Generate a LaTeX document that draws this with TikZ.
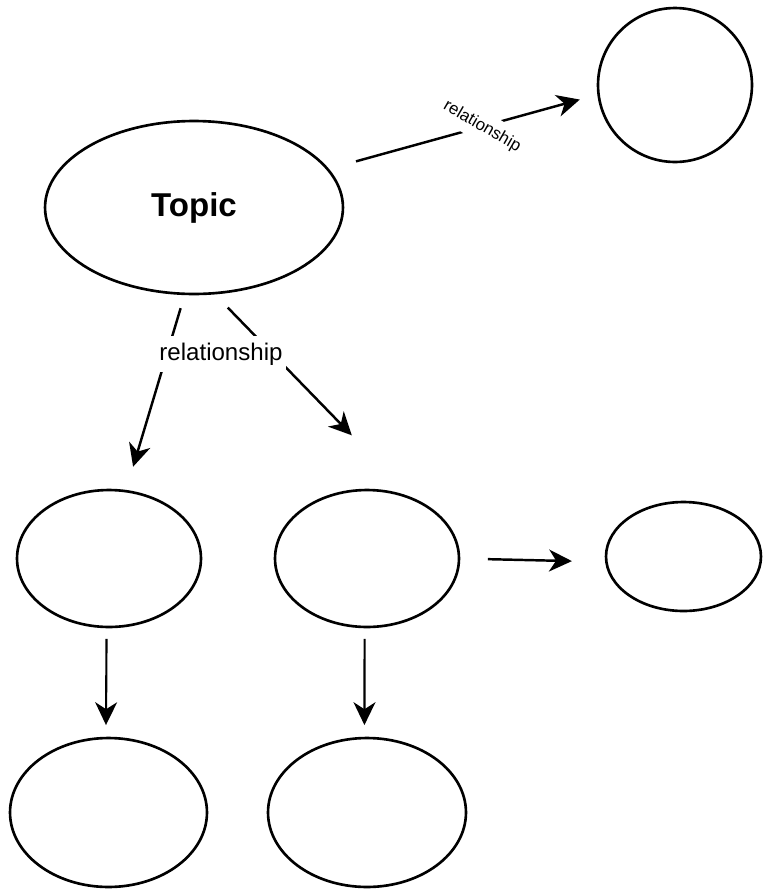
\documentclass[tikz,border=0pt]{standalone}
\usepackage{fontspec}
\setmainfont{Liberation Sans}
\usetikzlibrary{shapes.geometric,arrows.meta}

\begin{document}
\begin{tikzpicture}[x=0.02cm,y=-0.02cm,
	bubble/.style={draw,ellipse,line width=1.5pt,inner sep=0pt,outer sep=0pt},
	link/.style={line width=1.4pt,-{Stealth[length=13pt,width=12.5pt,inset=4pt]}},
	downlink/.style={link,line width=1.2pt},
	rel/.style={fill=white,inner xsep=2pt,inner ysep=3.7pt,font=\fontsize{13.7}{16}\selectfont},
	smallrel/.style={fill=white,inner xsep=1pt,inner ysep=4pt,font=\fontsize{9.6}{11}\selectfont}]
	%					\draw[help lines, step=50](0,0)grid(768,890);
	\useasboundingbox (0,0) rectangle (768,890);
	
	\node [bubble,minimum width=5.96cm,minimum height=3.46cm,font=\bfseries\fontsize{18.8}{22}\selectfont] (topic) at (194,207.5) {Topic};
	\node [bubble,minimum size=3.08cm] (side) at (675,85) {};
	
	\node [bubble,minimum width=3.68cm,minimum height=2.74cm] (left) at (109,558.5) {};
	\node [bubble,minimum width=3.68cm,minimum height=2.74cm] (mid) at (367,558.5) {};
	\node [bubble,minimum width=3.10cm,minimum height=2.18cm] (right) at (683.5,556.5) {};
	
	\node [bubble,minimum width=3.94cm,minimum height=2.98cm] (leftlow) at (108.5,812.5) {};
	\node [bubble,minimum width=3.96cm,minimum height=2.98cm] (midlow) at (367,812.5) {};
	
	\draw [link,shorten <=0.59cm,shorten >=0.39cm](topic.16)-- node[pos=.57,rotate=-30,smallrel]{relationship} (side.187);
	
	\draw [link,shorten <=0.30cm,shorten >=0.51cm](topic.-96)--(left.76);
	\draw [link,shorten <=0.40cm,shorten >=1.80cm](topic.-77)--(mid.51);
	\node [rel] (relname) at (221,354) {relationship};
	
	\draw [link,shorten <=0.58cm,shorten >=0.69cm](mid.east)--(right.184);
	\draw [downlink,shorten <=0.24cm,shorten >=0.26cm](left.-92)--(leftlow.92);
	\draw [downlink,shorten <=0.24cm,shorten >=0.26cm](mid.-92)--(midlow.92);
	
\end{tikzpicture}
\end{document}
